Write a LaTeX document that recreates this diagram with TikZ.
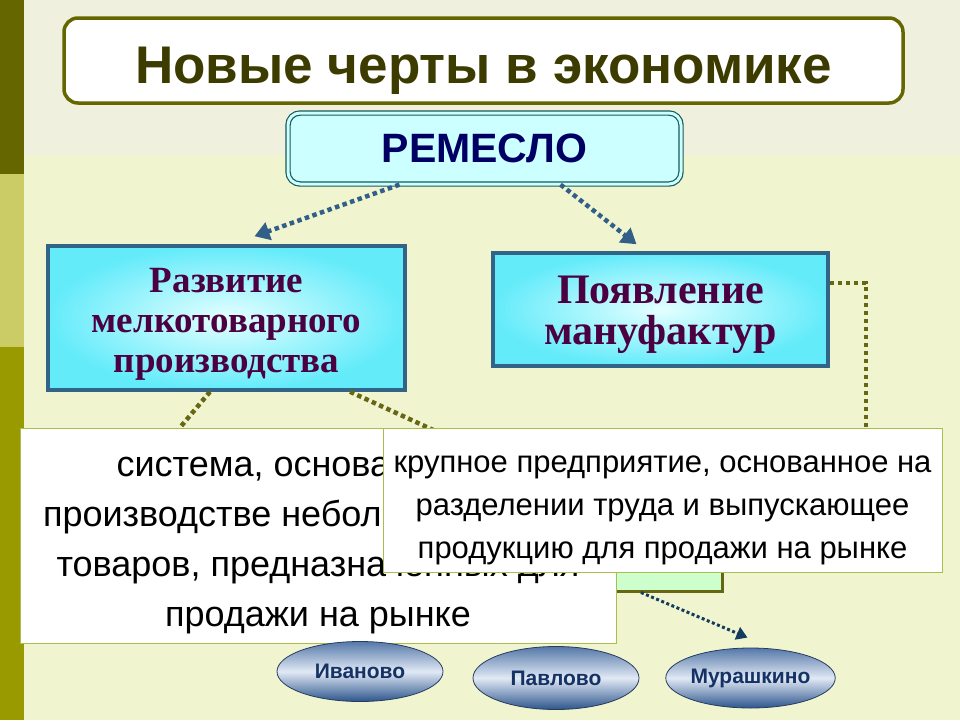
\documentclass[tikz,border=0pt]{standalone}
\usepackage{fontspec}
\setmainfont{Liberation Serif}
\newfontfamily\arialfont{Liberation Sans}
\usepackage{tikz}
\usetikzlibrary{shapes,arrows.meta}

\definecolor{bgtop}{RGB}{239,241,222}
\definecolor{bgbot}{RGB}{240,245,208}
\definecolor{stripdark}{RGB}{102,102,0}
\definecolor{striplight}{RGB}{204,204,102}
\definecolor{stripmid}{RGB}{153,153,0}
\definecolor{olivedot}{RGB}{102,102,20}
\definecolor{titletext}{RGB}{60,60,0}
\definecolor{craftfill}{RGB}{204,255,255}
\definecolor{craftline}{RGB}{25,90,90}
\definecolor{crafttext}{RGB}{0,0,100}
\definecolor{boxline}{RGB}{50,100,135}
\definecolor{boxin}{RGB}{228,255,255}
\definecolor{boxout}{RGB}{100,235,250}
\definecolor{boxtext}{RGB}{75,0,65}
\definecolor{defline}{RGB}{170,190,80}
\definecolor{greenfill}{RGB}{204,255,204}
\definecolor{bluedot}{RGB}{50,95,135}
\definecolor{navydot}{RGB}{20,60,95}
\definecolor{townhi}{RGB}{225,233,245}
\definecolor{towntop}{RGB}{85,120,168}
\definecolor{townbot}{RGB}{45,85,140}
\definecolor{townline}{RGB}{40,60,95}
\definecolor{towntext}{RGB}{20,50,100}

\begin{document}
\begin{tikzpicture}[x=1pt,y=-1pt]
 	\def \titleht{60.5}
 	\def \craftht{148.5}
 	\def \townht{678}
 	\tikzstyle{title-node}=[rectangle,rounded corners=14pt,draw=stripdark,line width=3.5pt,fill=white,minimum width=839pt,minimum height=85pt,text height=45pt,text depth=0pt,text=titletext,font=\arialfont\bfseries\fontsize{53}{60}\selectfont]
 	\tikzstyle{craft-node}=[rectangle,rounded corners=12pt,draw=craftline,line width=1.2pt,double=craftfill,double distance=3pt,fill=craftfill,minimum width=393pt,minimum height=71pt,text=crafttext,font=\arialfont\bfseries\fontsize{41}{46}\selectfont]
 	\tikzstyle{b-node}=[rectangle,draw=boxline,line width=3.5pt,inner color=boxin,outer color=boxout,text=boxtext,align=center]
 	\tikzstyle{d-node}=[rectangle,draw=defline,line width=1pt,fill=white,align=center,font=\arialfont]
 	\tikzstyle{t-node}=[ellipse,draw=townline,line width=0.8pt,top color=towntop,bottom color=townbot,middle color=townhi,minimum width=166pt,minimum height=60pt,inner sep=0pt,text=towntext,font=\arialfont\bfseries\fontsize{21}{24}\selectfont]
 	\tikzstyle{blue-dot}=[draw=bluedot,line width=4.5pt,dash pattern=on 4.5pt off 3.5pt,-{Triangle[length=15pt,width=18pt]}]
 	\tikzstyle{olive-dot}=[draw=olivedot,line width=4.5pt,dash pattern=on 4.5pt off 3.5pt]
 	% background
 	\useasboundingbox (0,0) rectangle (960,720);
 	\fill[bgtop] (0,0) rectangle (960,155);
 	\fill[bgbot] (0,155) rectangle (960,720);
 	\fill[stripdark] (0,0) rectangle (24,174);
 	\fill[striplight] (0,174) rectangle (24,347);
 	\fill[stripmid] (0,347) rectangle (24,720);
 	% headers
 	\node[title-node] 	(title)	at (483.5,\titleht)	{Новые черты в экономике};
 	\node[craft-node] 	(craft)	at (484.5,\craftht)	{РЕМЕСЛО};
 	% second row
 	\node[b-node,minimum width=357pt,minimum height=144pt,font=\bfseries\fontsize{37}{40}\selectfont] 	(small)	at (226.5,318)	{\rule{0pt}{37pt}Развитие\\мелкотоварного\\производства};
 	\node[b-node,minimum width=335pt,minimum height=113pt,font=\bfseries\fontsize{42}{41}\selectfont] 	(manu)	at (660.5,309.5)	{\rule{0pt}{38pt}Появление\\мануфактур};
 	\path ([xshift=-85pt]craft.south)	edge[blue-dot]	([xshift=28pt,yshift=8pt]small.north)
 		([xshift=76pt]craft.south)	edge[blue-dot]	([xshift=-24pt,yshift=7pt]manu.north);
 	% hidden box and olive links
 	\node[rectangle,draw=olivedot,line width=3pt,fill=greenfill,minimum width=162pt,minimum height=102pt] 	(fact)	at (641,540)	{};
 	\node[t-node] 	(murash)	at (750.5,\townht)	{Мурашкино};
 	\path (fact.south)	edge[blue-dot,draw=navydot,line width=3pt,dash pattern=on 3pt off 2.5pt,-{Triangle[length=11pt,width=13pt]}]	([xshift=-3pt,yshift=10pt]murash.north);
 	\path ([xshift=123.5pt]small.south)	edge[olive-dot]	(fact.north west);
 	% definitions
 	\node[d-node,minimum width=596pt,minimum height=215pt,font=\arialfont\fontsize{36}{50}\selectfont] 	(sysdef)	at (318,535.5)	{\rule{0pt}{40pt}система, основанная на\\производстве небольших партий\\товаров, предназначенных для\\продажи на рынке};
 	\path ([xshift=-16.5pt]small.south)	edge[olive-dot]	([xshift=-138pt]sysdef.north);
 	\node[d-node,minimum width=559pt,minimum height=144pt,font=\arialfont\fontsize{31}{43}\selectfont] 	(manudef)	at (662.5,500)	{\rule{0pt}{38pt}крупное предприятие, основанное на\\разделении труда и выпускающее\\продукцию для продажи на рынке};
 	\draw[olive-dot]	([yshift=26.5pt]manu.east)	-|	([xshift=203.5pt]manudef.north);
 	% towns
 	\node[t-node] 	(ivan)	at (360,671.5)	{Иваново};
 	\node[t-node,minimum height=63pt] 	(pavl)	at (556,\townht)	{Павлово};
 \end{tikzpicture}
\end{document}
